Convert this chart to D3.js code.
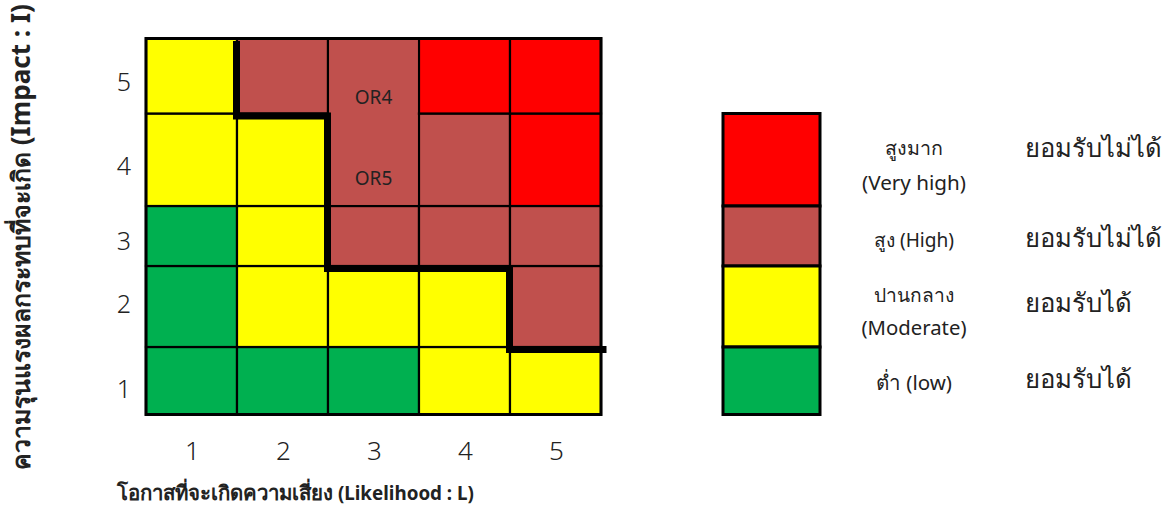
<!DOCTYPE html>
<html>
<head>
<meta charset="utf-8">
<script src="https://cdn.jsdelivr.net/npm/d3@7"></script>
<style>
  html, body { margin: 0; padding: 0; background: #fff; }
  svg { display: block; font-family: "Noto Sans", "Open Sans", sans-serif; }
</style>
</head>
<body>
<svg id="chart" width="1173" height="509"></svg>
<script>
// ---- data ----
const likelihood = [1, 2, 3, 4, 5];
const impact = [1, 2, 3, 4, 5];
// level per cell, keyed by impact row, columns likelihood 1..5
const levelRows = {
  5: ["M", "H", "H", "VH", "VH"],
  4: ["M", "M", "H", "H", "VH"],
  3: ["L", "M", "H", "H", "H"],
  2: ["L", "M", "M", "M", "H"],
  1: ["L", "L", "L", "M", "M"]
};
// relative heights of impact rows (the rows are not equal in the picture)
const rowHeights = { 1: 67.5, 2: 81, 3: 60, 4: 92.5, 5: 75 };
const mergedCells = [{ likelihood: 3, impacts: [4, 5] }];
const cellLabels = [
  { likelihood: 3, impact: 5, text: "OR4" },
  { likelihood: 3, impact: 4, text: "OR5" }
];
// acceptance boundary (likelihood, impact) in grid-edge units
const boundary = [[1.5, 5.5], [1.5, 4.5], [2.5, 4.5], [2.5, 2.5], [4.5, 2.5], [4.5, 1.5], [5.566, 1.5]];
const levels = ["VH", "H", "M", "L"];
const levelColors = { VH: "#FF0000", H: "#C0504D", M: "#FFFF00", L: "#00B050" };
const legendRows = { VH: 4, H: 3, M: 2, L: 1 };
const legendNames = {
  VH: ["สูงมาก", "(Very high)"],
  H: ["สูง (High)"],
  M: ["ปานกลาง", "(Moderate)"],
  L: ["ต่ำ (low)"]
};
const acceptance = { VH: "ยอมรับไม่ได้", H: "ยอมรับไม่ได้", M: "ยอมรับได้", L: "ยอมรับได้" };
const xTitleParts = ["โอกาสที่จะเกิดความเสี่ยง", " (Likelihood : L)"];
const yTitleParts = ["ความรุนแรงผลกระทบที่จะเกิด", " (Impact : I)"];

// ---- layout (measured on the reference) ----
const xTitleWidths = [218, 141];
const yTitleWidths = [318, 148];
const yTickBaseline = { 5: 15, 4: 15, 3: 14, 2: 6, 1: 17 };
const nameWidths = { VH: [57, 104], H: [80], M: [78, 105], L: [76] };
const nameBaselines = { VH: [-5, 30], H: [11], M: [-4.5, 28.5], L: [9] };
const accBaselines = { VH: -3, H: 11, M: 5.5, L: 7 };
const accWidths = { VH: 137, H: 137, M: 108, L: 108 };

function fit(node, target) {
  const el = d3.select(node);
  const fs = parseFloat(el.attr("font-size"));
  const w = node.getComputedTextLength();
  if (w > 0) el.attr("font-size", (fs * target / w).toFixed(2));
}

// ---- scales ----
const svg = d3.select("#chart");
const x = d3.scaleBand().domain(likelihood).range([146, 601]).padding(0);
const xEdge = d3.scaleLinear().domain([0.5, 5.5]).range([146, 601]);
const edges = [0.5, 1.5, 2.5, 3.5, 4.5, 5.5];
let acc = 0;
const cum = [0];
impact.forEach(i => { acc += rowHeights[i]; cum.push(acc); });
const yBottom = 414.5, yTop = 38.5;
const yEdge = d3.scaleLinear().domain(edges).range(cum.map(c => yBottom - c * (yBottom - yTop) / acc));
const rowTop = i => yEdge(i + 0.5);
const rowBot = i => yEdge(i - 0.5);
const rowMid = i => (rowTop(i) + rowBot(i)) / 2;

// ---- cells ----
const cells = [];
impact.forEach(i => likelihood.forEach((l, k) => cells.push({ l, i, level: levelRows[i][k] })));

svg.append("g").selectAll("rect").data(cells).join("rect")
  .attr("x", d => x(d.l))
  .attr("y", d => rowTop(d.i))
  .attr("width", x.bandwidth())
  .attr("height", d => rowBot(d.i) - rowTop(d.i))
  .attr("fill", d => levelColors[d.level])
  .attr("stroke", "#000")
  .attr("stroke-width", 2.2);

svg.append("g").selectAll("rect").data(mergedCells).join("rect")
  .attr("x", d => x(d.likelihood) + 1.2)
  .attr("y", d => rowTop(d3.max(d.impacts)) + 1.2)
  .attr("width", x.bandwidth() - 2.4)
  .attr("height", d => rowBot(d3.min(d.impacts)) - rowTop(d3.max(d.impacts)) - 2.4)
  .attr("fill", d => levelColors[levelRows[d.impacts[0]][d.likelihood - 1]]);

svg.append("rect")
  .attr("x", xEdge(0.5)).attr("y", yEdge(5.5))
  .attr("width", xEdge(5.5) - xEdge(0.5)).attr("height", yEdge(0.5) - yEdge(5.5))
  .attr("fill", "none").attr("stroke", "#000").attr("stroke-width", 3);

svg.append("g").selectAll("text").data(cellLabels).join("text")
  .attr("x", d => x(d.likelihood) + x.bandwidth() / 2)
  .attr("y", d => rowMid(d.impact) + (d.impact === 5 ? 28 : 25))
  .attr("text-anchor", "middle")
  .attr("font-size", 19)
  .attr("fill", "#222")
  .text(d => d.text);

// acceptance boundary
svg.append("path")
  .datum(boundary)
  .attr("transform", "translate(-0.5,2.5)")
  .attr("d", d3.line().x(d => xEdge(d[0])).y(d => yEdge(d[1])))
  .attr("fill", "none")
  .attr("stroke", "#000")
  .attr("stroke-width", 7)
  .attr("stroke-linejoin", "miter")
  .attr("stroke-linecap", "butt");

// tick labels
svg.append("g").selectAll("text").data(likelihood).join("text")
  .attr("x", d => x(d) + x.bandwidth() / 2 + 1)
  .attr("y", 460)
  .attr("text-anchor", "middle")
  .attr("font-size", 26)
  .attr("font-weight", 300)
  .attr("fill", "#222")
  .text(d => d);

svg.append("g").selectAll("text").data(impact).join("text")
  .attr("x", 124)
  .attr("y", d => rowMid(d) + yTickBaseline[d])
  .attr("text-anchor", "middle")
  .attr("font-size", 25)
  .attr("font-weight", 300)
  .attr("fill", "#222")
  .text(d => d);

// axis titles
const xt = svg.append("text")
  .attr("x", 117).attr("y", 500)
  .attr("font-weight", "bold")
  .attr("fill", "#222");
xt.selectAll("tspan").data(xTitleParts).join("tspan")
  .attr("font-size", 17)
  .text(d => d)
  .each(function (d, k) { fit(this, xTitleWidths[k]); });

const yt = svg.append("text")
  .attr("transform", "translate(30,470) rotate(-90)")
  .attr("font-weight", "bold")
  .attr("fill", "#222");
yt.selectAll("tspan").data(yTitleParts).join("tspan")
  .attr("font-size", 17)
  .text(d => d)
  .each(function (d, k) { fit(this, yTitleWidths[k]); });

// ---- legend ----
const lg = svg.append("g");
lg.selectAll("rect").data(levels).join("rect")
  .attr("x", 723)
  .attr("y", d => rowTop(legendRows[d]))
  .attr("width", 97)
  .attr("height", d => rowBot(legendRows[d]) - rowTop(legendRows[d]))
  .attr("fill", d => levelColors[d])
  .attr("stroke", "#000")
  .attr("stroke-width", 3);

lg.selectAll("g.name").data(levels).join("g").attr("class", "name")
  .each(function (d) {
    const mid = rowMid(legendRows[d]);
    d3.select(this).selectAll("text").data(legendNames[d]).join("text")
      .attr("x", 914)
      .attr("y", (t, k) => mid + nameBaselines[d][k])
      .attr("text-anchor", "middle")
      .attr("font-size", 16.5)
      .attr("fill", "#222")
      .text(t => t)
      .each(function (t, k) { fit(this, nameWidths[d][k]); });
  });

lg.selectAll("text.acc").data(levels).join("text").attr("class", "acc")
  .attr("x", 1025)
  .attr("y", d => rowMid(legendRows[d]) + accBaselines[d])
  .attr("font-size", 26)
  .attr("fill", "#222")
  .text(d => acceptance[d])
  .each(function (d) { fit(this, accWidths[d]); });
</script>
</body>
</html>
